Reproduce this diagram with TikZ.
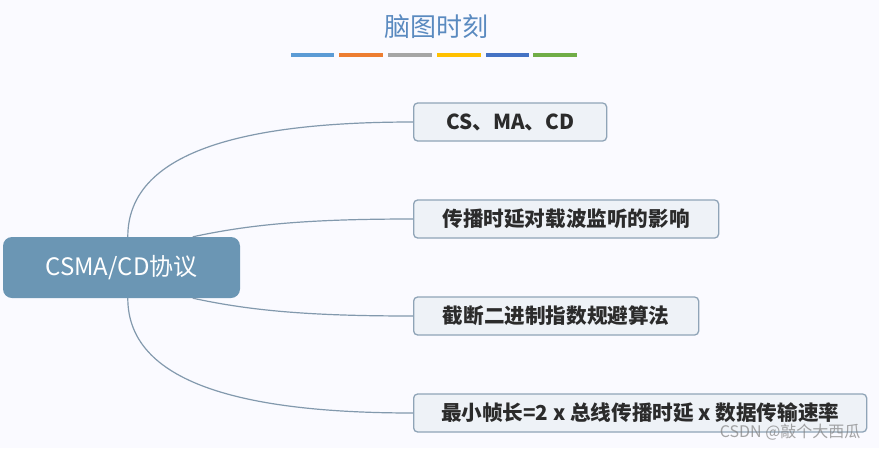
\documentclass[tikz,border=0pt]{standalone}
\usepackage{fontspec}
\setmainfont{Noto Sans CJK SC}
\usetikzlibrary{positioning}
\definecolor{titleblue}{HTML}{5A8AC0}
\definecolor{rootfill}{HTML}{6B96B4}
\definecolor{boxfill}{HTML}{EEF2F7}
\definecolor{boxline}{HTML}{8FA4B7}
\definecolor{linkline}{HTML}{8299AD}
\definecolor{txt}{HTML}{2B2B2B}
\tikzset{
  rootbox/.style={rectangle, rounded corners=9pt, fill=rootfill, text=white,
    minimum width=237pt, minimum height=61pt, font=\fontsize{24}{28}\selectfont},
  topicbox/.style={rectangle, rounded corners=4pt, draw=boxline, line width=1.3pt,
    fill=boxfill, text=txt, inner xsep=0pt, minimum height=38pt, anchor=west,
    font=\fontsize{20.6}{24}\selectfont\bfseries},
  link/.style={draw=linkline, line width=1.2pt},
  bar/.style={line width=4pt}
}
\begin{document}
\begin{tikzpicture}[x=1pt,y=-1pt]
    \useasboundingbox[fill=white!98!blue] (0,0) rectangle (879,448);
    \node[text=titleblue, font=\fontsize{26}{30}\selectfont] (title) at (436,27) {脑图时刻};
    \draw[bar, color={rgb,255:red,91;green,155;blue,213}] (291,55) -- (334,55);
    \draw[bar, color={rgb,255:red,237;green,125;blue,49}] (339,55) -- (383,55);
    \draw[bar, color={rgb,255:red,165;green,165;blue,165}] (388,55) -- (432,55);
    \draw[bar, color={rgb,255:red,255;green,192;blue,0}] (437,55) -- (481,55);
    \draw[bar, color={rgb,255:red,68;green,114;blue,196}] (486,55) -- (529,55);
    \draw[bar, color={rgb,255:red,112;green,173;blue,71}] (533,55) -- (577,55);
    \node[rootbox] (root) at (121.5,267.5) {CSMA/CD协议};
    \node[topicbox, minimum width=193pt] (csma) at (413,122) {CS、MA、CD};
    \node[topicbox, minimum width=305pt] (delay) at (413,219) {传播时延对载波监听的影响};
    \node[topicbox, minimum width=285pt] (backoff) at (413,316) {截断二进制指数规避算法};
    \node[topicbox, minimum width=453pt] (minframe) at (413,413) {最小帧长=2 x 总线传播时延 x 数据传输速率};
    \draw[link] ([xshift=125pt]root.north west) .. controls +(0,-85) and +(-170,0) .. (csma.west);
    \draw[link] ([xshift=190pt]root.north west) .. controls +(60,-13) and +(-100,0) .. (delay.west);
    \draw[link] ([xshift=190pt]root.south west) .. controls +(60,13) and +(-100,0) .. (backoff.west);
    \draw[link] ([xshift=125pt]root.south west) .. controls +(0,85) and +(-170,0) .. (minframe.west);
    \node[text=gray, opacity=0.7, font=\fontsize{16}{19}\selectfont, anchor=east] (mark) at (864,432) {CSDN @敲个大西瓜};
\end{tikzpicture}
\end{document}
